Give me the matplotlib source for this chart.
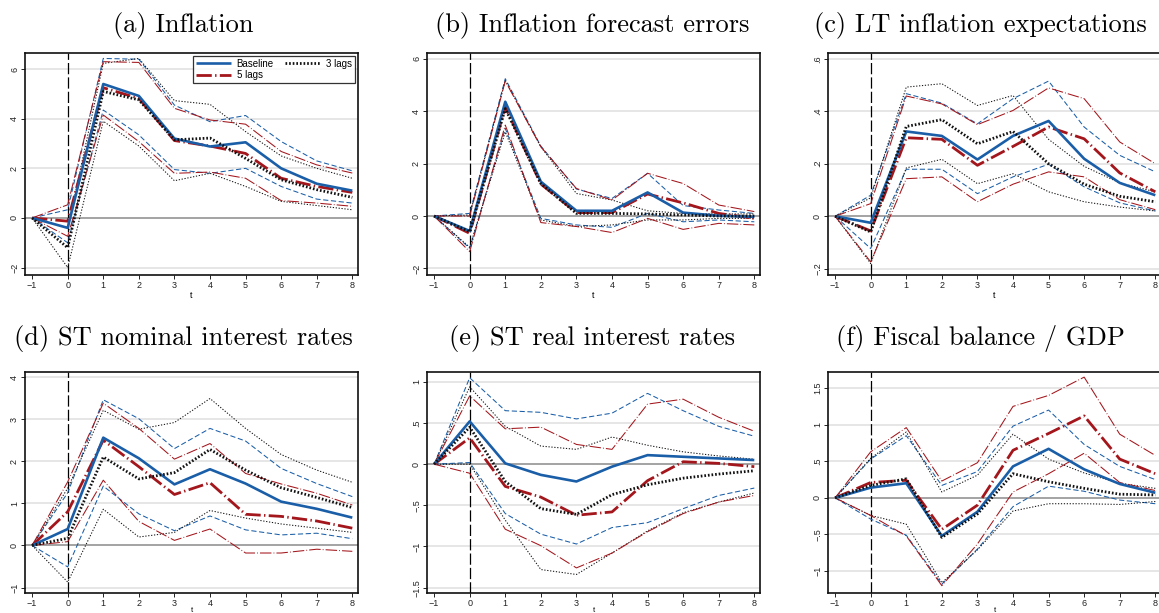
import matplotlib
matplotlib.use("Agg")
import matplotlib.pyplot as plt

# ---------------- data ----------------
t = [-1, 0, 1, 2, 3, 4, 5, 6, 7, 8]
xticks = [-1, 0, 1, 2, 3, 4, 5, 6, 7, 8]

titles = ["(a) Inflation", "(b) Inflation forecast errors", "(c) LT inflation expectations",
          "(d) ST nominal interest rates", "(e) ST real interest rates", "(f) Fiscal balance / GDP"]

legend_labels = ["Baseline", "3 lags", "5 lags"]

# (a) Inflation
a_base    = [0, -0.40, 5.40, 4.92, 3.20, 2.88, 3.05, 2.00, 1.38, 1.10]
a_base_hi = [0, 0.33, 6.43, 6.40, 4.55, 3.88, 4.13, 3.08, 2.30, 1.90]
a_base_lo = [0, -1.00, 4.35, 3.35, 1.95, 1.80, 2.00, 1.27, 0.76, 0.60]
a_l3      = [0, -1.20, 5.10, 4.76, 3.15, 3.22, 2.40, 1.54, 1.14, 0.83]
a_l3_hi   = [0, -0.40, 6.23, 6.43, 4.73, 4.58, 3.48, 2.50, 2.00, 1.60]
a_l3_lo   = [0, -2.00, 3.90, 2.90, 1.50, 1.80, 1.27, 0.67, 0.50, 0.33]
a_l5      = [0, -0.13, 5.25, 4.82, 3.12, 2.90, 2.60, 1.60, 1.27, 1.03]
a_l5_hi   = [0, 0.53, 6.30, 6.27, 4.42, 3.95, 3.78, 2.68, 2.14, 1.81]
a_l5_lo   = [0, -0.74, 4.15, 3.08, 1.80, 1.85, 1.60, 0.70, 0.60, 0.47]

# (b) Inflation forecast errors
b_base    = [0, -0.57, 4.36, 1.31, 0.20, 0.20, 0.90, 0.13, 0.01, -0.03]
b_base_hi = [0, 0.10, 5.24, 2.67, 1.03, 0.67, 1.63, 0.40, 0.23, 0.10]
b_base_lo = [0, -1.23, 3.34, -0.09, -0.34, -0.43, 0.10, -0.22, -0.15, -0.22]
b_l3      = [0, -0.60, 4.10, 1.24, 0.10, 0.10, 0.08, 0.04, 0.00, 0.00]
b_l3_hi   = [0, 0.04, 5.18, 2.64, 0.86, 0.61, 0.20, 0.10, 0.08, 0.08]
b_l3_lo   = [0, -1.19, 3.21, -0.15, -0.40, -0.34, -0.15, -0.15, -0.09, -0.09]
b_l5      = [0, -0.66, 4.17, 1.22, 0.13, 0.13, 0.84, 0.50, 0.10, -0.09]
b_l5_hi   = [0, 0.00, 5.15, 2.64, 1.05, 0.61, 1.63, 1.24, 0.42, 0.17]
b_l5_lo   = [0, -1.36, 3.47, -0.25, -0.40, -0.63, -0.09, -0.51, -0.28, -0.34]

# (c) LT inflation expectations
c_base    = [0, -0.025, 0.323, 0.306, 0.216, 0.306, 0.363, 0.219, 0.127, 0.080]
c_base_hi = [0, 0.080, 0.467, 0.431, 0.352, 0.448, 0.515, 0.340, 0.232, 0.169]
c_base_lo = [0, -0.123, 0.179, 0.179, 0.086, 0.150, 0.198, 0.112, 0.051, 0.020]
c_l3      = [0, -0.060, 0.342, 0.368, 0.276, 0.323, 0.200, 0.122, 0.076, 0.055]
c_l3_hi   = [0, 0.070, 0.492, 0.505, 0.422, 0.460, 0.293, 0.190, 0.127, 0.093]
c_l3_lo   = [0, -0.180, 0.184, 0.217, 0.124, 0.162, 0.093, 0.055, 0.035, 0.020]
c_l5      = [0, -0.056, 0.299, 0.293, 0.194, 0.266, 0.340, 0.295, 0.165, 0.093]
c_l5_hi   = [0, 0.048, 0.458, 0.428, 0.349, 0.403, 0.489, 0.448, 0.283, 0.200]
c_l5_lo   = [0, -0.174, 0.143, 0.150, 0.055, 0.122, 0.169, 0.150, 0.063, 0.025]

# (d) ST nominal interest rates
d_base    = [0, 0.39, 2.56, 2.07, 1.45, 1.81, 1.47, 1.04, 0.87, 0.66]
d_base_hi = [0, 1.25, 3.46, 3.01, 2.30, 2.78, 2.48, 1.83, 1.47, 1.16]
d_base_lo = [0, -0.51, 1.41, 0.75, 0.35, 0.70, 0.37, 0.25, 0.29, 0.16]
d_l3      = [0, 0.17, 2.10, 1.58, 1.73, 2.28, 1.79, 1.37, 1.14, 0.90]
d_l3_hi   = [0, 1.36, 3.21, 2.76, 2.92, 3.49, 2.78, 2.16, 1.79, 1.50]
d_l3_lo   = [0, -0.87, 0.86, 0.20, 0.31, 0.83, 0.65, 0.51, 0.41, 0.31]
d_l5      = [0, 0.80, 2.50, 1.87, 1.21, 1.49, 0.74, 0.69, 0.58, 0.41]
d_l5_hi   = [0, 1.51, 3.38, 2.78, 2.05, 2.42, 1.71, 1.46, 1.24, 0.96]
d_l5_lo   = [0, 0.09, 1.55, 0.57, 0.12, 0.39, -0.18, -0.18, -0.09, -0.14]

# (e) ST real interest rates
e_base    = [0, 0.52, 0.01, -0.13, -0.21, -0.03, 0.11, 0.09, 0.07, 0.05]
e_base_hi = [0, 1.05, 0.65, 0.63, 0.55, 0.62, 0.86, 0.65, 0.46, 0.34]
e_base_lo = [0, 0.02, -0.60, -0.85, -0.97, -0.77, -0.71, -0.54, -0.38, -0.29]
e_l3      = [0, 0.45, -0.21, -0.54, -0.61, -0.37, -0.25, -0.17, -0.12, -0.08]
e_l3_hi   = [0, 0.94, 0.46, 0.22, 0.18, 0.33, 0.23, 0.15, 0.10, 0.06]
e_l3_lo   = [0, 0.00, -0.68, -1.28, -1.34, -1.08, -0.81, -0.59, -0.46, -0.35]
e_l5      = [0, 0.32, -0.27, -0.40, -0.62, -0.58, -0.20, 0.03, 0.01, -0.03]
e_l5_hi   = [0, 0.83, 0.43, 0.45, 0.24, 0.18, 0.73, 0.79, 0.57, 0.40]
e_l5_lo   = [0, -0.11, -0.79, -0.99, -1.26, -1.08, -0.82, -0.60, -0.46, -0.38]

# (f) Fiscal balance / GDP
f_base    = [0, 0.14, 0.20, -0.52, -0.19, 0.43, 0.67, 0.39, 0.19, 0.07]
f_base_hi = [0, 0.53, 0.85, 0.17, 0.36, 0.98, 1.20, 0.73, 0.43, 0.25]
f_base_lo = [0, -0.29, -0.51, -1.18, -0.70, -0.12, 0.16, 0.09, -0.03, -0.08]
f_l3      = [0, 0.17, 0.26, -0.54, -0.22, 0.33, 0.22, 0.13, 0.05, 0.04]
f_l3_hi   = [0, 0.54, 0.90, 0.08, 0.31, 0.87, 0.53, 0.34, 0.20, 0.13]
f_l3_lo   = [0, -0.24, -0.36, -1.16, -0.71, -0.18, -0.08, -0.08, -0.09, -0.05]
f_l5      = [0, 0.21, 0.24, -0.43, -0.10, 0.65, 0.88, 1.12, 0.53, 0.33]
f_l5_hi   = [0, 0.63, 0.96, 0.23, 0.48, 1.25, 1.40, 1.65, 0.87, 0.58]
f_l5_lo   = [0, -0.24, -0.52, -1.20, -0.63, 0.08, 0.33, 0.61, 0.21, 0.10]

panel_data = [
    (a_base, a_base_lo, a_base_hi, a_l3, a_l3_lo, a_l3_hi, a_l5, a_l5_lo, a_l5_hi),
    (b_base, b_base_lo, b_base_hi, b_l3, b_l3_lo, b_l3_hi, b_l5, b_l5_lo, b_l5_hi),
    (c_base, c_base_lo, c_base_hi, c_l3, c_l3_lo, c_l3_hi, c_l5, c_l5_lo, c_l5_hi),
    (d_base, d_base_lo, d_base_hi, d_l3, d_l3_lo, d_l3_hi, d_l5, d_l5_lo, d_l5_hi),
    (e_base, e_base_lo, e_base_hi, e_l3, e_l3_lo, e_l3_hi, e_l5, e_l5_lo, e_l5_hi),
    (f_base, f_base_lo, f_base_hi, f_l3, f_l3_lo, f_l3_hi, f_l5, f_l5_lo, f_l5_hi),
]

yticks_list = [
    [-2, 0, 2, 4, 6],
    [-2, 0, 2, 4, 6],
    [-0.2, 0, 0.2, 0.4, 0.6],
    [-1, 0, 1, 2, 3, 4],
    [-1.5, -1, -0.5, 0, 0.5, 1],
    [-1, -0.5, 0, 0.5, 1, 1.5],
]
ylabels_list = [
    ["\u22122", "0", "2", "4", "6"],
    ["\u22122", "0", "2", "4", "6"],
    ["\u2212.2", "0", ".2", ".4", ".6"],
    ["\u22121", "0", "1", "2", "3", "4"],
    ["\u22121.5", "\u22121", "\u2212.5", "0", ".5", "1"],
    ["\u22121", "\u2212.5", "0", ".5", "1", "1.5"],
]

# ---------------- style ----------------
W, H = 1159, 613
ylims = [(-2.3, 6.65), (-2.25, 6.22), (-0.224, 0.622),
         (-1.13, 4.12), (-1.565, 1.12), (-1.30, 1.72)]
xlim = (-1.2, 8.16)

col_left = [25, 427, 828]
title_cx = [183, 592, 980]
ax_w = 333
rows = [(53, 275), (372, 593)]
title_base_y = [32, 345]

BLUE = "#1a5ea8"
RED = "#a3161c"
BLACK = "#111111"

plt.rcParams["font.family"] = ["Liberation Sans", "DejaVu Sans"]
fig = plt.figure(figsize=(W / 100, H / 100), dpi=100)
fig.patch.set_facecolor("white")

for i in range(6):
    r, c = divmod(i, 3)
    top, bot = rows[r]
    left = col_left[c]
    ax = fig.add_axes([left / W, (H - bot) / H, ax_w / W, (bot - top) / H])
    ax.set_xlim(*xlim)
    ax.set_ylim(*ylims[i])
    base, blo, bhi, l3, l3lo, l3hi, l5, l5lo, l5hi = panel_data[i]

    # grid
    for yv in yticks_list[i]:
        if yv != 0:
            ax.axhline(yv, color="#e6e6e6", lw=1.4, zorder=0)
    ax.axhline(0, color="#8a8a8a", lw=1.1, zorder=1)
    ax.axvline(0, color="black", lw=0.9, ls=(0, (9, 2.5)), zorder=1)

    # confidence bands
    ax.plot(t, bhi, color=BLUE, lw=0.75, ls=(0, (5, 2.5)), zorder=2)
    ax.plot(t, blo, color=BLUE, lw=0.75, ls=(0, (5, 2.5)), zorder=2)
    ax.plot(t, l3hi, color=BLACK, lw=0.75, ls=(0, (1.2, 1.6)), zorder=2)
    ax.plot(t, l3lo, color=BLACK, lw=0.75, ls=(0, (1.2, 1.6)), zorder=2)
    ax.plot(t, l5hi, color=RED, lw=0.75, ls=(0, (11, 2, 0.8, 2)), zorder=2)
    ax.plot(t, l5lo, color=RED, lw=0.75, ls=(0, (11, 2, 0.8, 2)), zorder=2)

    # point estimates
    h_base, = ax.plot(t, base, color=BLUE, lw=1.9, solid_capstyle="butt", zorder=4)
    h_l3, = ax.plot(t, l3, color=BLACK, lw=2.0, ls=(0, (0.6, 0.7)), zorder=5)
    h_l5, = ax.plot(t, l5, color=RED, lw=2.0, ls=(0, (5.5, 1.2, 0.5, 1.2)), zorder=3)

    ax.set_xticks(xticks)
    ax.set_xticklabels([str(v) if v >= 0 else "\u2212" + str(-v) for v in xticks])
    ax.set_yticks(yticks_list[i])
    ax.set_yticklabels(ylabels_list[i], rotation=90, va="center")
    ax.tick_params(axis="both", labelsize=6.5, length=2.8, width=0.7,
                   direction="out", pad=1.5, colors="#222222")
    for s in ax.spines.values():
        s.set_linewidth(1.2)
        s.set_color("#111111")
    if r == 0:
        ax.set_xlabel("t", fontsize=6.5, labelpad=1)
    else:
        ax.set_xlabel("t", fontsize=5.5, labelpad=-0.5)

    fig.text(title_cx[c] / W, (H - title_base_y[r]) / H, titles[i], family="cmr10",
             fontsize=19, ha="center", va="baseline")

    if i == 0:
        leg = ax.legend([h_base, h_l5, h_l3], [legend_labels[0], legend_labels[2], legend_labels[1]],
                        ncol=2, loc="upper right", fontsize=7, frameon=True, fancybox=False,
                        edgecolor="black", borderaxespad=0.3, handlelength=3.6,
                        handletextpad=0.6, columnspacing=1.2, labelspacing=0.15,
                        borderpad=0.3)
        leg.get_frame().set_linewidth(0.9)

fig.savefig("out.png", dpi=100, facecolor="white")
